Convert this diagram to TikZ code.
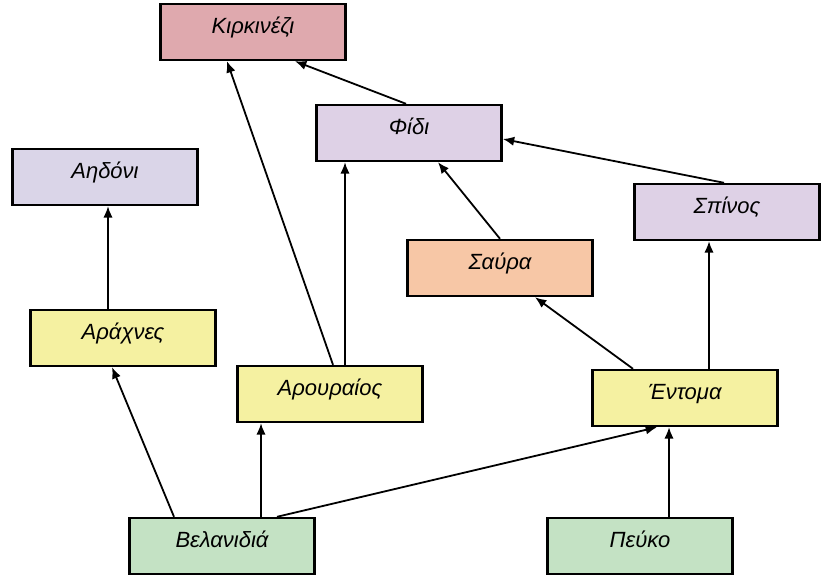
\documentclass[tikz,border=0pt]{standalone}
\usepackage{fontspec}
\setmainfont{Liberation Sans}
\usetikzlibrary{arrows.meta}

\definecolor{kirkfill}{RGB}{223,169,174}
\definecolor{lilacfill}{RGB}{222,209,230}
\definecolor{bluelilac}{RGB}{218,213,232}
\definecolor{peachfill}{RGB}{247,199,166}
\definecolor{yellowfill}{RGB}{245,241,161}
\definecolor{greenfill}{RGB}{196,226,196}

\tikzset{every picture/.style={line width=0.75pt}}
\tikzset{
  species/.style={draw=black, line width=1.8pt, minimum width=139pt, minimum height=42pt,
    inner sep=0.75pt, text height=11pt, text depth=8.5pt,
    font=\fontsize{16.5}{19}\selectfont\itshape},
  feeds/.style={-{Latex[length=8.5pt,width=7pt]}, line width=1.35pt}
}

\begin{document}
\begin{tikzpicture}[x=0.75pt,y=0.75pt,yscale=-1,xscale=1]
\useasboundingbox (0,0) rectangle (827,586);

% Text Node
\node [species, fill=kirkfill] (kirk) at (253,32) {Κιρκινέζι};
% Text Node
\node [species, fill=lilacfill] (fidi) at (409,133) {Φίδι};
% Text Node
\node [species, fill=bluelilac] (aidoni) at (105,177) {Αηδόνι};
% Text Node
\node [species, fill=lilacfill] (spinos) at (727,212) {Σπίνος};
% Text Node
\node [species, fill=peachfill] (savra) at (500,268) {Σαύρα};
% Text Node
\node [species, fill=yellowfill] (arachnes) at (123,338) {Αράχνες};
% Text Node
\node [species, fill=yellowfill] (arouraios) at (330,394) {Αρουραίος};
% Text Node
\node [species, fill=yellowfill] (entoma) at (685,398) {Έντομα};
% Text Node
\node [species, fill=greenfill] (velan) at (222,546) {Βελανιδιά};
% Text Node
\node [species, fill=greenfill] (pefko) at (640,546) {Πεύκο};

%Straight Lines
\draw [feeds] ([xshift=-11.25pt]arachnes.north) -- ([xshift=2.25pt]aidoni.south);
\draw [feeds] ([xshift=-36pt]velan.north) -- ([xshift=-8.25pt]arachnes.south);
\draw [feeds] ([xshift=29.25pt]velan.north) -- ([xshift=-51.75pt]arouraios.south);
\draw [feeds] ([xshift=41.25pt]velan.north) -- ([xshift=-21pt]entoma.south);
\draw [feeds] ([xshift=21.75pt]pefko.north) -- ([xshift=-12pt]entoma.south);
\draw [feeds] ([xshift=-39pt]entoma.north) -- ([xshift=26.25pt]savra.south);
\draw [feeds] ([xshift=18pt]entoma.north) -- ([xshift=-13.5pt]spinos.south);
\draw [feeds] (savra.north) -- ([xshift=21.75pt]fidi.south);
\draw [feeds] ([xshift=-2.25pt]spinos.north) -- ([yshift=4.5pt]fidi.east);
\draw [feeds] ([xshift=11.25pt]arouraios.north) -- ([xshift=-48pt]fidi.south);
\draw [feeds] ([xshift=2.25pt]arouraios.north) -- ([xshift=-19.5pt]kirk.south);
\draw [feeds] ([xshift=-2.25pt]fidi.north) -- ([xshift=31.5pt]kirk.south);

\end{tikzpicture}
\end{document}
